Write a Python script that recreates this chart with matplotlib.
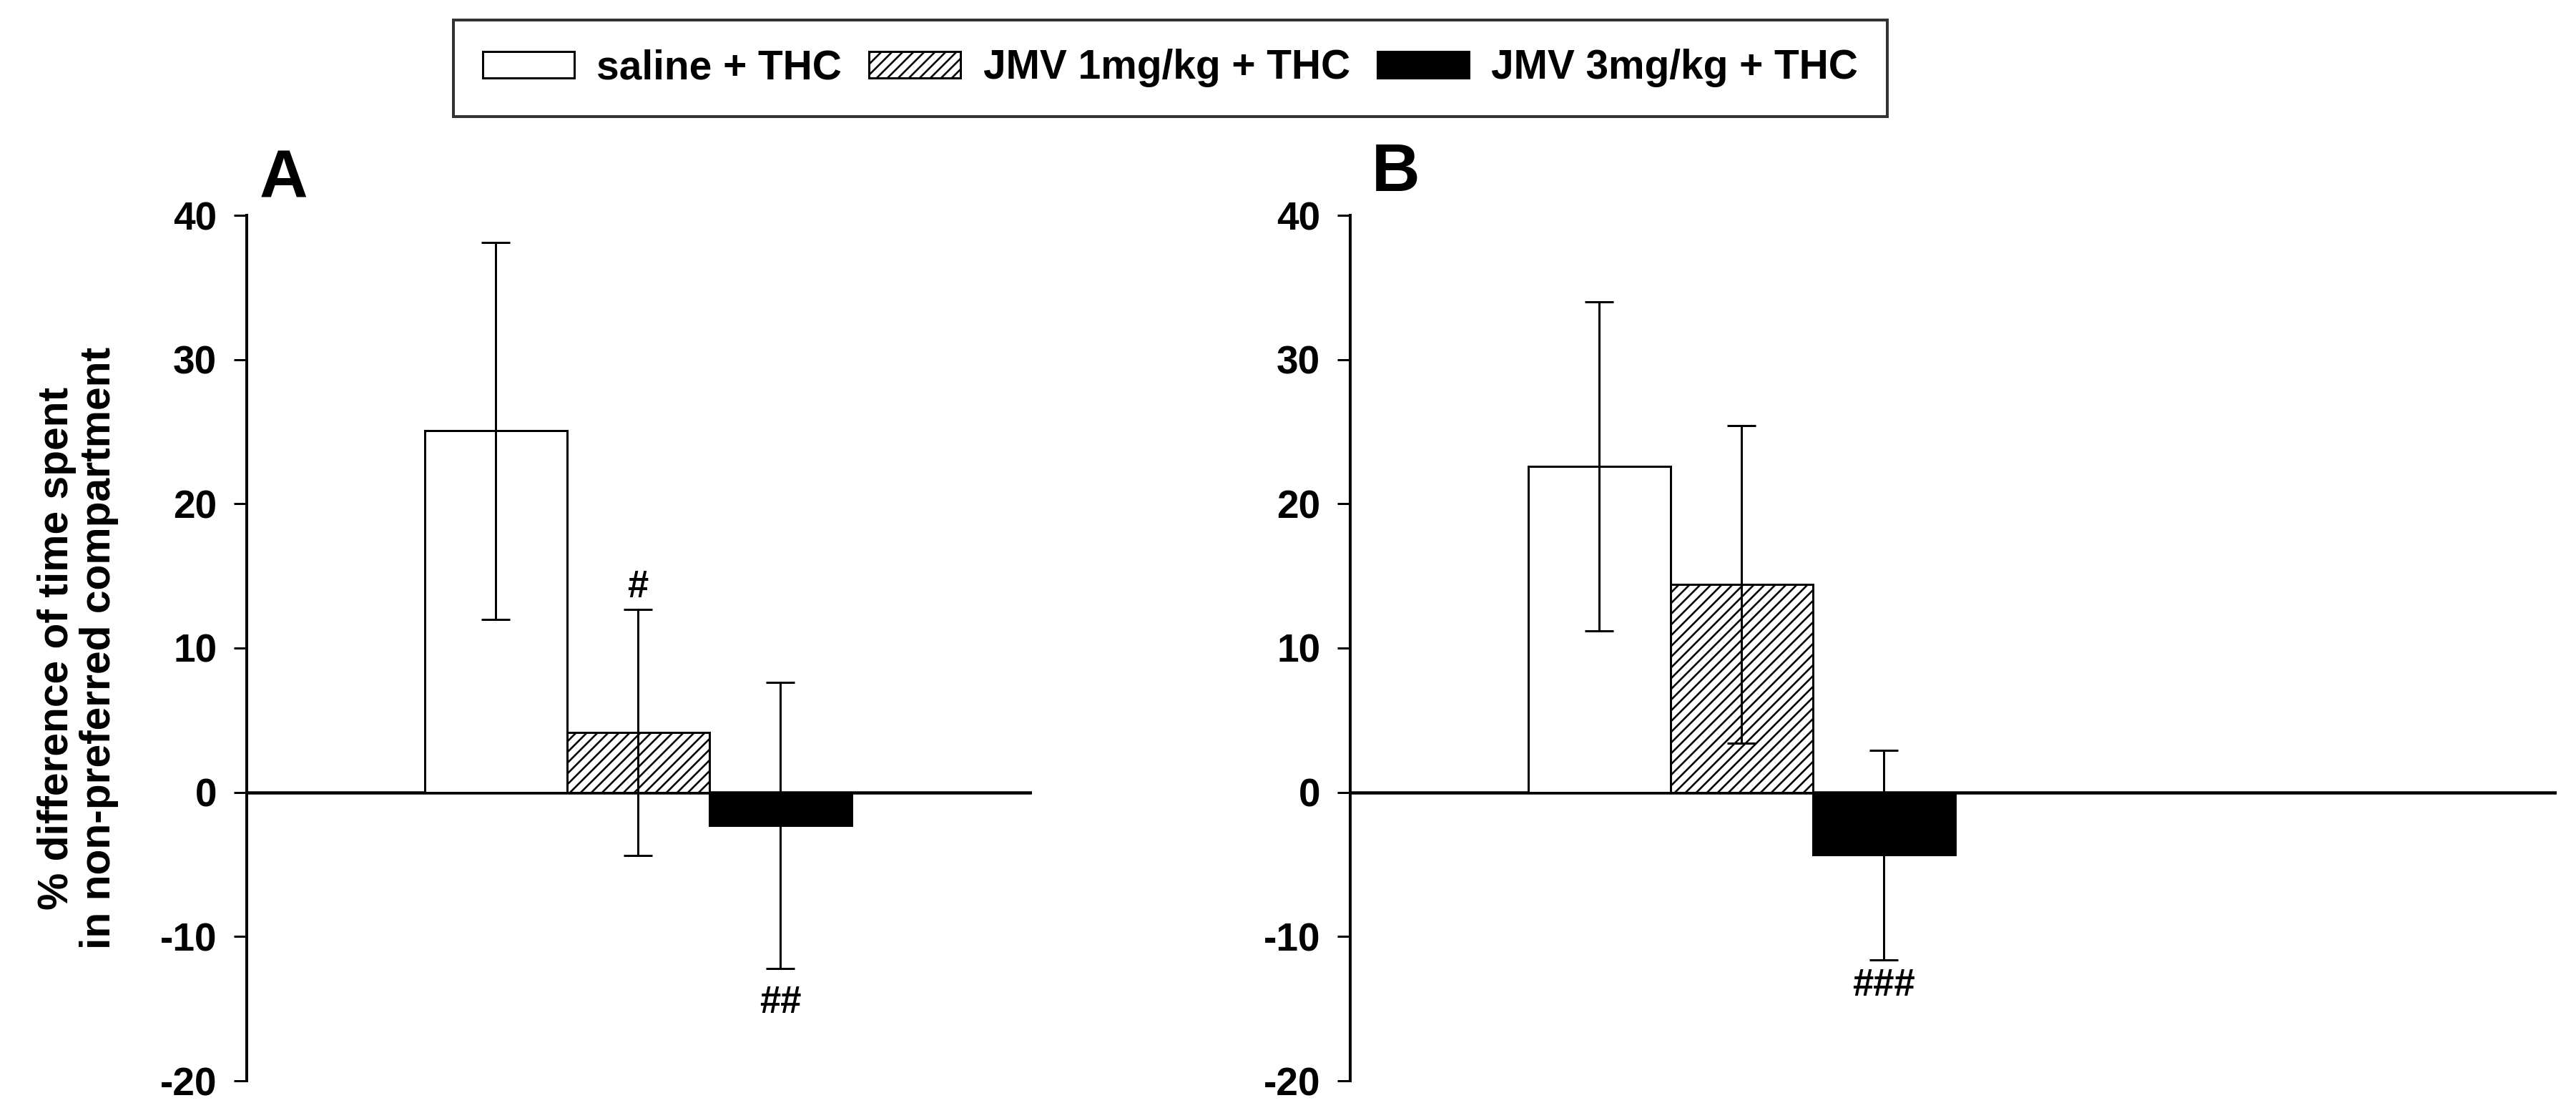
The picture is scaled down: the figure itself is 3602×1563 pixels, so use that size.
import matplotlib
matplotlib.use("Agg")
import matplotlib.pyplot as plt
from matplotlib.patches import Patch

# ---------------- data ----------------
groups = ["saline + THC", "JMV 1mg/kg + THC", "JMV 3mg/kg + THC"]
means_A = [25.05, 4.15, -2.3]
sem_A = [13.05, 8.55, 9.9]
means_B = [22.6, 14.4, -4.35]
sem_B = [11.4, 11.0, 7.25]
yticks = [-20, -10, 0, 10, 20, 30, 40]
ylabel = "% difference of time spent\nin non-preferred compartment"
annot_A = [(1, 14.2, "#"), (2, -14.6, "##")]
annot_B = [(2, -13.4, "###")]

# ---------------- style ----------------
W, H, DPI = 3602, 1563, 90
PT = 72.0 / DPI  # points per pixel
plt.rcParams['font.family'] = ['Liberation Sans', 'DejaVu Sans']
plt.rcParams['axes.unicode_minus'] = False
plt.rcParams['hatch.linewidth'] = 2.6 * PT
plt.rcParams['hatch.color'] = 'black'

faces = ['white', 'white', 'black']
hatches = [None, '//', None]

fig = plt.figure(figsize=(W / DPI, H / DPI), dpi=DPI)

unit = 199.0  # px per bar
y_top, y_bot = 301, 1511

def make_ax(left_px, right_px):
    ax = fig.add_axes([left_px / W, 1 - y_bot / H, (right_px - left_px) / W, (y_bot - y_top) / H])
    x0 = -1.75
    ax.set_xlim(x0, x0 + (right_px - left_px) / unit)
    ax.set_ylim(-20, 40)
    for s in ['top', 'right', 'bottom']:
        ax.spines[s].set_visible(False)
    ax.spines['left'].set_linewidth(4 * PT)
    ax.set_xticks([])
    ax.set_yticks(yticks)
    ax.tick_params(axis='y', direction='out', length=18 * PT, width=3 * PT,
                   labelsize=44, pad=19)
    for lab in ax.get_yticklabels():
        lab.set_fontweight('bold')
    ax.axhline(0, color='black', lw=4.5 * PT, zorder=1)
    return ax

def draw(ax, means, sems, annots):
    xs = list(range(len(means)))
    for x, m, f, h in zip(xs, means, faces, hatches):
        ax.bar(x, m, width=1.0, color=f, edgecolor='black', linewidth=3 * PT,
               hatch=h, zorder=2)
    ax.errorbar(xs, means, yerr=sems, fmt='none', ecolor='black', elinewidth=3 * PT,
                capsize=16, capthick=3 * PT, zorder=3)
    for x, y, t in annots:
        ax.text(x, y, t, ha='center', va='center', fontsize=42, fontweight='bold', zorder=4)

axA = make_ax(345, 1443)
axB = make_ax(1888, 3575)
draw(axA, means_A, sem_A, annot_A)
draw(axB, means_B, sem_B, annot_B)

fig.text(363 / W, 1 - 277 / H, "A", fontsize=75, fontweight='bold', ha='left', va='baseline')
fig.text(1918 / W, 1 - 267 / H, "B", fontsize=75, fontweight='bold', ha='left', va='baseline')

fig.text(109 / W, 1 - 906 / H, ylabel, rotation=90, ha='center', va='center',
         fontsize=47, fontweight='bold', multialignment='center', linespacing=1.1)

handles = [Patch(facecolor=f, edgecolor='black', hatch=h, linewidth=3 * PT)
           for f, h in zip(faces, hatches)]
leg = fig.legend(handles, groups, loc='center',
                 bbox_to_anchor=(1636.5 / W, 1 - 95.5 / H), ncol=3,
                 prop={'family': ['Liberation Sans'], 'weight': 'bold', 'size': 45.5},
                 frameon=True, fancybox=False, edgecolor='black',
                 handlelength=2.25, handleheight=0.64, handletextpad=0.55,
                 columnspacing=0.67, borderpad=0.72)
leg.get_frame().set_linewidth(4 * PT)

fig.savefig("out.png", dpi=DPI, facecolor='white')
